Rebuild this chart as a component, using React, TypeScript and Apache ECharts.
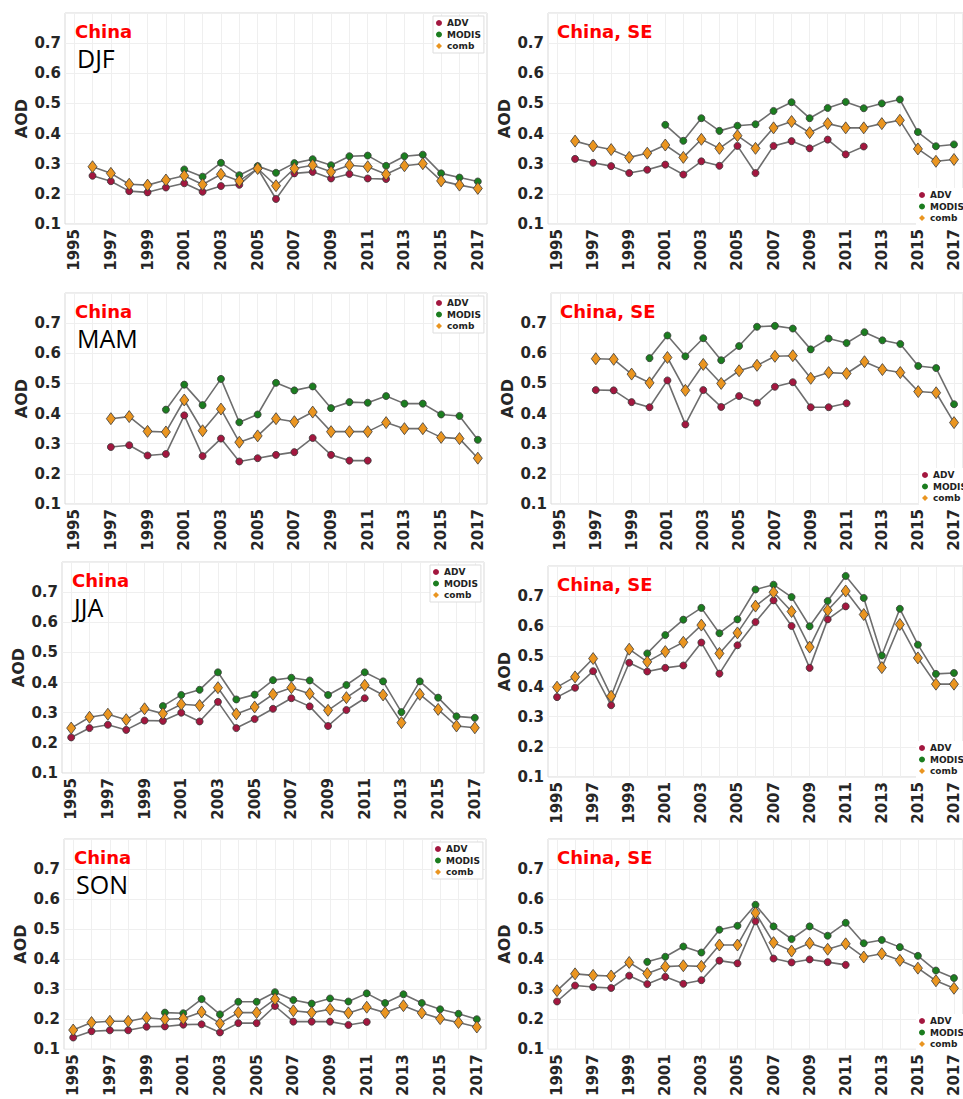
import React, { useEffect, useRef } from "react";
import * as echarts from "echarts";

const years = ["1995","1996","1997","1998","1999","2000","2001","2002","2003","2004","2005","2006","2007","2008","2009","2010","2011","2012","2013","2014","2015","2016","2017"];
const seasons = ["DJF", "MAM", "JJA", "SON"];
const regions = ["China", "China, SE"];
const seriesNames = ["ADV", "MODIS", "comb"];
const yTicks = [0.1, 0.2, 0.3, 0.4, 0.5, 0.6, 0.7];

const n = null;
// China
const chinaDJF_ADV = [n,0.26,0.242,0.209,0.205,0.221,0.235,0.207,0.226,0.23,0.284,0.183,0.268,0.273,0.251,0.266,0.251,0.249,n,n,n,n,n];
const chinaDJF_MODIS = [n,n,n,n,n,n,0.281,0.257,0.303,0.262,0.292,0.27,0.302,0.315,0.295,0.325,0.327,0.293,0.325,0.33,0.268,0.254,0.241];
const chinaDJF_comb = [n,0.29,0.268,0.232,0.229,0.246,0.26,0.231,0.265,0.243,0.284,0.227,0.284,0.295,0.273,0.295,0.29,0.265,0.293,0.3,0.243,0.229,0.218];

const chinaMAM_ADV = [n,n,0.289,0.295,0.261,0.266,0.394,0.259,0.317,0.241,0.252,0.263,0.272,0.319,0.263,0.244,0.244,n,n,n,n,n,n];
const chinaMAM_MODIS = [n,n,n,n,n,0.413,0.496,0.428,0.515,0.371,0.397,0.502,0.477,0.49,0.418,0.438,0.436,0.458,0.433,0.433,0.397,0.392,0.313];
const chinaMAM_comb = [n,n,0.383,0.39,0.341,0.339,0.445,0.343,0.415,0.305,0.326,0.383,0.373,0.405,0.34,0.34,0.34,0.37,0.35,0.35,0.321,0.317,0.252];

const chinaJJA_ADV = [0.218,0.249,0.26,0.243,0.274,0.273,0.3,0.271,0.336,0.249,0.279,0.313,0.348,0.321,0.256,0.309,0.348,n,n,n,n,n,n];
const chinaJJA_MODIS = [n,n,n,n,n,0.322,0.359,0.376,0.434,0.344,0.36,0.408,0.416,0.407,0.359,0.392,0.434,0.404,0.302,0.404,0.35,0.288,0.283];
const chinaJJA_comb = [0.249,0.285,0.295,0.277,0.313,0.297,0.328,0.324,0.383,0.296,0.319,0.361,0.383,0.363,0.308,0.35,0.391,0.359,0.267,0.361,0.311,0.256,0.25];

const chinaSON_ADV = [0.139,0.16,0.163,0.163,0.175,0.176,0.182,0.183,0.156,0.187,0.187,0.244,0.192,0.192,0.192,0.181,0.191,n,n,n,n,n,n];
const chinaSON_MODIS = [n,n,n,n,n,0.222,0.22,0.267,0.216,0.258,0.258,0.29,0.264,0.252,0.269,0.259,0.286,0.254,0.283,0.254,0.233,0.218,0.2];
const chinaSON_comb = [0.164,0.189,0.193,0.193,0.205,0.2,0.202,0.224,0.186,0.222,0.222,0.267,0.228,0.222,0.233,0.221,0.24,0.222,0.245,0.221,0.202,0.189,0.174];

// China, SE
const seDJF_ADV = [n,0.316,0.303,0.292,0.269,0.28,0.297,0.264,0.308,0.293,0.359,0.269,0.359,0.375,0.351,0.38,0.331,0.357,n,n,n,n,n];
const seDJF_MODIS = [n,n,n,n,n,n,0.429,0.376,0.451,0.409,0.426,0.431,0.475,0.504,0.451,0.485,0.505,0.484,0.5,0.513,0.405,0.358,0.364];
const seDJF_comb = [n,0.375,0.359,0.347,0.321,0.335,0.362,0.321,0.381,0.351,0.393,0.351,0.419,0.44,0.403,0.433,0.419,0.419,0.433,0.444,0.349,0.308,0.314];

const seMAM_ADV = [n,n,0.478,0.477,0.438,0.421,0.51,0.364,0.478,0.422,0.458,0.436,0.489,0.504,0.421,0.421,0.434,n,n,n,n,n,n];
const seMAM_MODIS = [n,n,n,n,n,0.584,0.659,0.59,0.65,0.577,0.624,0.688,0.691,0.682,0.613,0.649,0.634,0.67,0.643,0.631,0.558,0.551,0.431];
const seMAM_comb = [n,n,0.582,0.58,0.531,0.502,0.586,0.477,0.563,0.5,0.542,0.56,0.59,0.592,0.517,0.536,0.533,0.572,0.546,0.536,0.473,0.469,0.37];

const seJJA_ADV = [0.365,0.396,0.451,0.338,0.479,0.45,0.462,0.47,0.546,0.443,0.537,0.614,0.686,0.601,0.462,0.623,0.666,n,n,n,n,n,n];
const seJJA_MODIS = [n,n,n,n,n,0.51,0.571,0.622,0.661,0.577,0.623,0.722,0.738,0.697,0.6,0.684,0.767,0.694,0.503,0.658,0.539,0.442,0.445];
const seJJA_comb = [0.398,0.432,0.493,0.368,0.524,0.482,0.516,0.547,0.604,0.51,0.578,0.667,0.713,0.649,0.531,0.653,0.717,0.639,0.463,0.606,0.495,0.408,0.408];

const seSON_ADV = [0.259,0.312,0.307,0.304,0.345,0.317,0.341,0.318,0.33,0.395,0.386,0.526,0.402,0.389,0.399,0.39,0.381,n,n,n,n,n,n];
const seSON_MODIS = [n,n,n,n,n,0.391,0.408,0.442,0.422,0.498,0.511,0.581,0.509,0.467,0.509,0.478,0.521,0.453,0.464,0.44,0.411,0.362,0.337];
const seSON_comb = [0.295,0.351,0.346,0.344,0.389,0.352,0.375,0.378,0.376,0.447,0.447,0.554,0.455,0.427,0.453,0.433,0.451,0.407,0.418,0.396,0.37,0.328,0.303];

const panelData = [
  [[chinaDJF_ADV, chinaDJF_MODIS, chinaDJF_comb], [seDJF_ADV, seDJF_MODIS, seDJF_comb]],
  [[chinaMAM_ADV, chinaMAM_MODIS, chinaMAM_comb], [seMAM_ADV, seMAM_MODIS, seMAM_comb]],
  [[chinaJJA_ADV, chinaJJA_MODIS, chinaJJA_comb], [seJJA_ADV, seJJA_MODIS, seJJA_comb]],
  [[chinaSON_ADV, chinaSON_MODIS, chinaSON_comb], [seSON_ADV, seSON_MODIS, seSON_comb]],
];

// layout (pixels)
const leftCol = { lefts: [65, 65, 62, 64], tops: [13, 293, 562, 839] };
const rightCol = { lefts: [548, 551, 548, 548], tops: [13, 293, 566, 839] };
const gridW = 422;
const gridH = 211;

const colors = ["#a3173f", "#1b7d1f", "#ea9520"];
const FONT = "DejaVu Sans";

export default function App() {
  const ref = useRef<HTMLDivElement>(null);
  useEffect(() => {
    if (!ref.current) return;
    const chart = echarts.init(ref.current, null, { renderer: "svg" });
    const grid: any[] = [];
    const xAxis: any[] = [];
    const yAxis: any[] = [];
    const series: any[] = [];
    const legend: any[] = [];
    const graphic: any[] = [];
    let gi = 0;
    for (let r = 0; r < 4; r++) {
      for (let c = 0; c < 2; c++) {
        const col = c === 0 ? leftCol : rightCol;
        const left = col.lefts[r];
        const top = col.tops[r];
        grid.push({ left, top, width: gridW + (c === 1 ? 1 : 0), height: gridH, show: true, borderColor: "#d9d9d9", borderWidth: 1, containLabel: false });
        xAxis.push({
          type: "category", gridIndex: gi, data: years, boundaryGap: true,
          axisLine: { show: false }, axisTick: { show: false },
          axisLabel: { interval: 1, rotate: 90, margin: 5, fontSize: 15, fontWeight: "bold", fontFamily: FONT, color: "#262626" },
          splitLine: { show: true, interval: 0, alignWithLabel: true, lineStyle: { color: "#efefef", width: 1 } },
        });
        yAxis.push({
          type: "value", gridIndex: gi, min: 0.1, max: 0.8, interval: 0.1,
          name: "AOD", nameLocation: "middle", nameGap: 36, nameRotate: 90,
          nameTextStyle: { fontSize: 16, fontWeight: "bold", fontFamily: FONT, color: "#262626" },
          axisLine: { show: false }, axisTick: { show: false },
          axisLabel: { margin: 4, fontSize: 15, fontWeight: "bold", fontFamily: FONT, color: "#262626",
            formatter: (v: number) => (yTicks.some((t) => Math.abs(t - v) < 1e-6) ? v.toFixed(1) : "") },
          splitLine: { show: true, lineStyle: { color: "#efefef", width: 1 } },
        });
        const d = panelData[r][c];
        for (let s = 0; s < 3; s++) {
          series.push({
            type: "line", name: seriesNames[s], xAxisIndex: gi, yAxisIndex: gi, data: d[s],
            connectNulls: false,
            symbol: s === 2 ? "diamond" : "circle",
            symbolSize: s === 2 ? [9, 12] : 7,
            showAllSymbol: true,
            lineStyle: { color: "#6e6e6e", width: 1.6 },
            itemStyle: { color: colors[s], borderColor: "#3a3a3a", borderWidth: 0.8 },
            z: 2 + s,
          });
        }
        legend.push({
          orient: "vertical",
          left: c === 0 ? left + gridW - 54 : left + 368,
          top: c === 0 ? top + 3 : top + 175,
          itemWidth: 6, itemHeight: 6, itemGap: 1.5,
          padding: [2, 3],
          borderColor: c === 0 ? "#dddddd" : "transparent",
          borderWidth: 1,
          backgroundColor: "#ffffff",
          selectedMode: false,
          itemStyle: { borderWidth: 0 },
          lineStyle: { width: 0 },
          textStyle: { fontSize: 9, fontWeight: "bold", fontFamily: FONT, color: "#222", lineHeight: 10 },
          data: [
            { name: "ADV", icon: "circle", itemStyle: { color: colors[0], borderWidth: 0 } },
            { name: "MODIS", icon: "circle", itemStyle: { color: colors[1], borderWidth: 0 } },
            { name: "comb", icon: "diamond", itemStyle: { color: colors[2], borderWidth: 0 } },
          ],
        });
        graphic.push({
          type: "text", left: left + (c === 0 ? 10 : 9), top: top + 9,
          style: { text: regions[c], fill: "#ff0000", font: `bold 18px "${FONT}"`, lineHeight: 14 },
          z: 10,
        });
        if (c === 0) {
          graphic.push({
            type: "text", left: left + 12, top: top + 32,
            style: { text: seasons[r], fill: "#000000", font: `25px "Open Sans"`, lineHeight: 19 },
            z: 10,
          });
        }
        gi++;
      }
    }
    chart.setOption({
      animation: false,
      backgroundColor: "#ffffff",
      grid, xAxis, yAxis, series, legend, graphic,
    });
    return () => chart.dispose();
  }, []);
  return (
    <div style={{ position: "absolute", left: 0, top: 0, width: 963, height: 1099, overflow: "hidden" }}>
      <div ref={ref} style={{ width: 963, height: 1099 }} />
    </div>
  );
}
